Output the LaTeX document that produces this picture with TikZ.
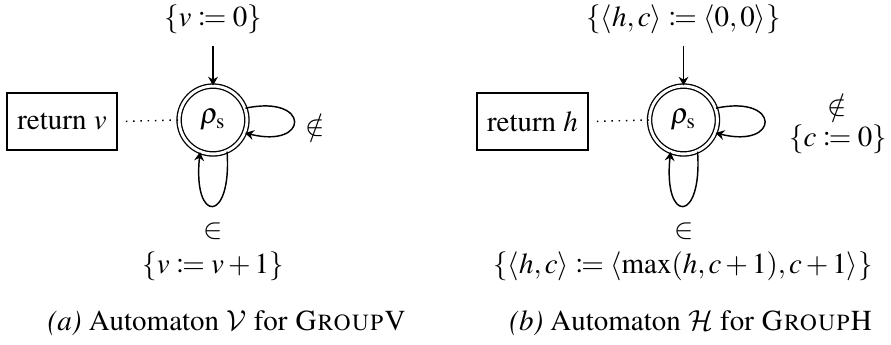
\documentclass[tikz,border=0pt]{standalone}
\usepackage[T1]{fontenc}
\usepackage{mathptmx}
\usepackage{mathtools}
\DeclareMathAlphabet{\mathcal}{OMS}{cmsy}{m}{n}
\usetikzlibrary{arrows.meta}
\begin{document}
\begin{tikzpicture}[x=0.345pt,y=-0.345pt,
  state/.style={circle,draw,double,double distance=1pt,line width=0.45pt,minimum size=23.4pt,inner sep=0pt},
  retbox/.style={draw,line width=0.5pt,minimum width=38pt,minimum height=19.7pt,inner sep=0pt},
  lab/.style={inner sep=0pt},
  arr/.style={-{Stealth[length=3pt,width=3.4pt,inset=1pt]},line width=0.5pt},
  dots/.style={dotted,line width=0.5pt,shorten <=2.8pt}]
\useasboundingbox (0,0) rectangle (891,344);
% (a)
\node[state] (s1) at (213,120) {$\rho_{\mathrm{s}}$};
\node[retbox] (r1) at (62,121.5) {return $v$};
\node[lab] (i1) at (213,19) {$\{v\coloneqq 0\}$};
\draw[arr,shorten <=4pt] (i1.south) -- (s1.north);
\draw[dots] (r1.east) -- (s1.west);
\draw[arr] (s1.20) .. controls +(12:23pt) and +(-14:23pt) .. (s1.-22);
\draw[arr] (s1.-66) .. controls +(-86:25pt) and +(-96:25pt) .. (s1.-112);
\node[lab] (n1) at (315,125) {$\notin$};
\node[lab] (e1) at (213,231) {$\in$};
\node[lab] (u1) at (213,266) {$\{v\coloneqq v+1\}$};
\node[lab] (c1) at (227,323) {\textit{(a)} Automaton $\mathcal{V}$ for \textsc{GroupV}};
% (b)
\node[state] (s2) at (683.5,120) {$\rho_{\mathrm{s}}$};
\node[retbox,minimum width=38.3pt] (r2) at (532.5,121.5) {return $h$};
\node[lab] (i2) at (683.5,19) {$\{\langle h,c\rangle\coloneqq\langle 0,0\rangle\}$};
\draw[arr,shorten <=4pt] (i2.south) -- (s2.north);
\draw[dots] (r2.east) -- (s2.west);
\draw[arr] (s2.20) .. controls +(12:23pt) and +(-14:23pt) .. (s2.-22);
\draw[arr] (s2.-66) .. controls +(-86:25pt) and +(-96:25pt) .. (s2.-112);
\node[lab] (n2) at (837,105) {$\notin$};
\node[lab] (z2) at (838,139) {$\{c\coloneqq 0\}$};
\node[lab] (e2) at (684,231) {$\in$};
\node[lab] (u2) at (683,266) {$\{\langle h,c\rangle\coloneqq\langle\max(h,c+1),c+1\rangle\}$};
\node[lab] (c2) at (691,323) {\textit{(b)} Automaton $\mathcal{H}$ for \textsc{GroupH}};
\end{tikzpicture}
\end{document}
